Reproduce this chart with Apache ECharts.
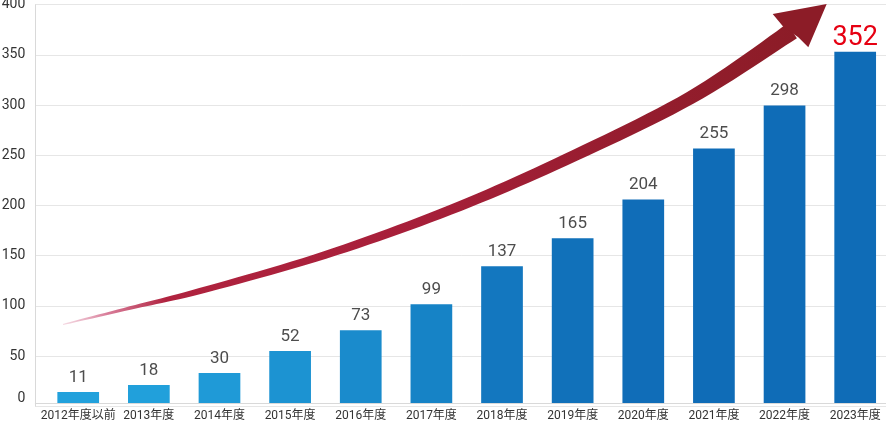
<!DOCTYPE html>
<html>
<head>
<meta charset="utf-8">
<script src="https://cdn.jsdelivr.net/npm/echarts@6/dist/echarts.min.js"></script>
<style>
html,body{margin:0;padding:0;background:#fff;}
#chart{width:886px;height:424px;}
</style>
</head>
<body>
<div id="chart"></div>
<script>
// ---- data ----
const categories = ['2012年度以前','2013年度','2014年度','2015年度','2016年度','2017年度','2018年度','2019年度','2020年度','2021年度','2022年度','2023年度'];
const values = [11, 18, 30, 52, 73, 99, 137, 165, 204, 255, 298, 352];
const yTicks = {min: 0, max: 400, interval: 50};

// ---- styles ----
const barColors = ['#22a1dc','#21a0db','#1f9ad7','#1c93d2','#1a8bcc','#1683c6','#1377bf','#1171ba','#106db8','#0f6cb7','#0f6cb7','#0f6cb7'];
const FONT = 'Roboto, "Noto Sans CJK JP", sans-serif';

const chart = echarts.init(document.getElementById('chart'), null, {renderer: 'canvas'});

// decorative arrow (not data): centerline points [x, y, halfWidth]
const arrowPts = [[63,324.5,0.5],[130,308,1.7],[200,291,3],[325,255,3.9],[450,210,4.9],[565,160,5.7],[690,98,6.6],[792,31,8.8]];
function catmull(p0,p1,p2,p3,t){
  const t2=t*t,t3=t2*t;
  return 0.5*((2*p1)+(-p0+p2)*t+(2*p0-5*p1+4*p2-p3)*t2+(-p0+3*p1-3*p2+p3)*t3);
}
const samples=[];
for(let i=0;i<arrowPts.length-1;i++){
  const p0=arrowPts[i-1]||arrowPts[i], p1=arrowPts[i], p2=arrowPts[i+1], p3=arrowPts[i+2]||arrowPts[i+1];
  const steps=12;
  for(let s=0;s<steps;s++){
    const t=s/steps;
    samples.push([catmull(p0[0],p1[0],p2[0],p3[0],t),catmull(p0[1],p1[1],p2[1],p3[1],t),p1[2]+(p2[2]-p1[2])*t]);
  }
}
samples.push(arrowPts[arrowPts.length-1].slice());
const left=[],right=[];
for(let i=0;i<samples.length;i++){
  const a=samples[Math.max(0,i-1)], b=samples[Math.min(samples.length-1,i+1)];
  let dx=b[0]-a[0], dy=b[1]-a[1]; const L=Math.hypot(dx,dy)||1; dx/=L; dy/=L;
  const nx=-dy, ny=dx, w=samples[i][2];
  left.push([samples[i][0]+nx*w, samples[i][1]+ny*w]);
  right.push([samples[i][0]-nx*w, samples[i][1]-ny*w]);
}
const shaft = left.concat(right.reverse());
const head = [[783.3,26.7],[772.7,14],[826.7,4],[808.3,47.3],[798.3,37.3]];

const option = {
  animation: false,
  backgroundColor: '#fff',
  grid: [
    {left: 35.3, width: 856, top: 4.7, bottom: 17.8, outerBoundsMode: 'none', containLabel: false},
    {left: 42.9, width: 847.6, top: 3.8, bottom: 21, outerBoundsMode: 'none', containLabel: false}
  ],
  xAxis: [
    {gridIndex: 0, type: 'value', min: 0, max: 1, offset: -3.2,
     axisLine: {show: true, onZero: false, lineStyle: {color: '#d9d9d9', width: 1}},
     axisTick: {show: false}, axisLabel: {show: false}, splitLine: {show: false}},
    {gridIndex: 1, type: 'category', data: categories,
     axisLine: {show: false}, axisTick: {show: false}, splitLine: {show: false},
     axisLabel: {interval: 0, margin: 7, fontSize: 12, color: '#333', fontFamily: FONT}}
  ],
  yAxis: [
    {gridIndex: 0, type: 'value', min: yTicks.min, max: yTicks.max, interval: yTicks.interval,
     axisLine: {show: true, onZero: false, lineStyle: {color: '#d9d9d9', width: 1}},
     axisTick: {show: false},
     splitLine: {show: true, lineStyle: {color: '#e6e6e6', width: 1}},
     axisLabel: {margin: 10, fontSize: 14, color: '#333', fontFamily: FONT,
       formatter: v => v === 0 ? '{z|0}' : String(v),
       rich: {z: {fontSize: 14, color: '#333', fontFamily: FONT, padding: [0, 0, 16, 0]}}}},
    {gridIndex: 1, type: 'value', min: yTicks.min, max: yTicks.max, show: false, splitLine: {show: false}}
  ],
  series: [{
    type: 'bar',
    xAxisIndex: 1, yAxisIndex: 1,
    barWidth: 41.7,
    data: values.map((v, i) => {
      const item = {value: v, itemStyle: {color: barColors[i]}};
      if (i === values.length - 1) {
        item.label = {fontSize: 27, color: '#e60012', distance: 0};
      }
      return item;
    }),
    label: {show: true, position: 'top', distance: 6, fontSize: 17, color: '#4d4d4d', fontFamily: FONT}
  }],
  graphic: [
    {type: 'polygon', z: 100, silent: true, shape: {points: shaft},
     style: {fill: new echarts.graphic.LinearGradient(0, 0, 1, 0, [
       {offset: 0, color: 'rgba(220,130,160,0.3)'},
       {offset: 0.06, color: 'rgba(200,70,110,0.7)'},
       {offset: 0.14, color: '#b0233f'},
       {offset: 0.5, color: '#a61f39'},
       {offset: 0.78, color: '#951d2e'},
       {offset: 1, color: '#8c1c27'}
     ])}},
    {type: 'polygon', z: 100, silent: true, shape: {points: head}, style: {fill: '#8c1c27'}}
  ]
};
chart.setOption(option);
</script>
</body>
</html>
